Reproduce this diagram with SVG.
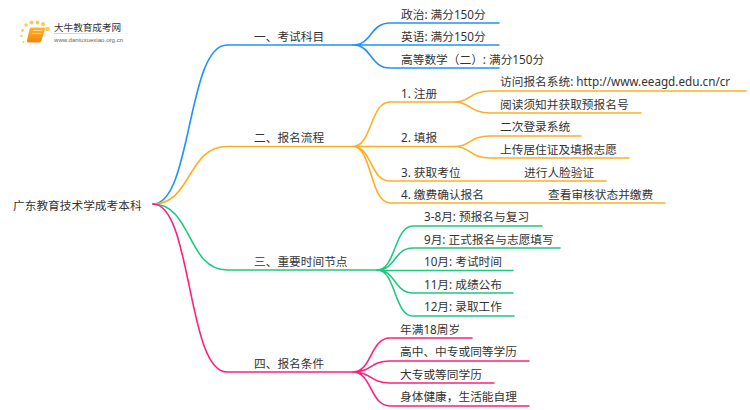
<svg xmlns="http://www.w3.org/2000/svg" width="750" height="410" viewBox="0 0 750 410">
<defs>
<style>
text{font-family:"Noto Sans","Noto Sans CJK SC",sans-serif;font-size:11.700px;fill:#333}
.c{fill:none;stroke-width:1.6;stroke-linecap:round}
.b{stroke:#2291ff}.o{stroke:#ffad22}.g{stroke:#1fc97f}.p{stroke:#ff1f7d}
.d{fill:#ffc94d}
</style>
<linearGradient id="bk" x1="0" y1="0" x2="0" y2="1"><stop offset="0" stop-color="#ffb52e"/><stop offset="1" stop-color="#f08410"/></linearGradient>
<linearGradient id="fd" x1="0" y1="0" x2="1" y2="0"><stop offset="0" stop-color="#ccc"/><stop offset="1" stop-color="#fff"/></linearGradient>
</defs>
<rect width="750" height="410" fill="#fff"/>
<g id="logo">
<circle class="d" cx="26" cy="25" r="1.800"/><circle class="d" cx="31.500" cy="22.500" r="2"/><circle class="d" cx="37.500" cy="22.500" r="2"/><circle class="d" cx="43" cy="24" r="2"/><circle class="d" cx="47.500" cy="29" r="2.300"/><circle class="d" cx="22.500" cy="30.500" r="1.400"/><circle class="d" cx="21.500" cy="36" r="1.200"/><circle class="d" cx="23.500" cy="42" r="1"/>
<path d="M31 27.500H44Q45.500 27.500 45 29L41.500 40.500Q41 42.500 39 42.500H28.500Q26.500 42.500 27 40.500L29.500 29Q29.800 27.500 31 27.500Z" fill="url(#bk)"/>
<path d="M33 30.500H42M32 33.500H41" stroke="#ffe2a0" stroke-width="0.8" fill="none"/>
<rect x="54" y="33" width="80" height="1" fill="url(#fd)"/>
<text x="54" y="31" style="font-size:9.600px;font-family:'Noto Sans CJK SC',sans-serif">大牛教育成考网</text>
<text x="54" y="41.500" style="font-size:6.100px;fill:#666;font-family:'Liberation Sans',sans-serif">www.daniuxuexiao.org.cn</text>
</g>
<g id="connectors">
<path class="c b" d="M153 204C192 204 187 45 227 45H353"/>
<path class="c b" d="M353 45C372 45 370 23 390 23H499M353 45H499M353 45C372 45 370 68 390 68H499"/>
<path class="c o" d="M153 204C192 204 187 146.500 227 146.500H353"/>
<path class="c o" d="M353 146.500C372 146.500 370 102 390 102H455M353 146.500H455M353 146.500C372 146.500 370 181 390 181H606M353 146.500C372 146.500 370 203 390 203H665"/>
<path class="c o" d="M455 102C470 102 470 91 490 91H746M455 102C470 102 470 113 490 113H641M455 146.500C470 146.500 470 136 490 136H581M455 146.500C470 146.500 470 158 490 158H629"/>
<path class="c g" d="M153 204C192 204 187 270 227 270H377"/>
<path class="c g" d="M377 270C396 270 394 226 413 226H542M377 270C396 270 394 248 413 248H560M377 270.500H513M377 270C396 270 394 293 413 293H513M377 270C396 270 394 316 413 316H514"/>
<path class="c p" d="M153 204C192 204 187 372 227 372H353"/>
<path class="c p" d="M353 372C372 372 370 338 390 338H472M353 372C372 372 370 361 390 361H529M353 372C372 372 370 383 390 383H494M353 372C372 372 370 406 390 406H529"/>
</g>
<g id="root"><text x="13" y="209.500">广东教育技术学成考本科</text></g>
<g id="n1"><text x="254" y="41">一、考试科目</text></g>
<g id="n1-1"><text x="401" y="19">政治: 满分150分</text></g>
<g id="n1-2"><text x="401" y="41">英语: 满分150分</text></g>
<g id="n1-3"><text x="401" y="64">高等数学（二）: 满分150分</text></g>
<g id="n2"><text x="254" y="142">二、报名流程</text></g>
<g id="n2-1"><text x="401" y="98">1. 注册</text></g>
<g id="n2-1-1"><text x="500" y="86">访问报名系统: http://www.eeagd.edu.cn/cr</text></g>
<g id="n2-1-2"><text x="500" y="108.500">阅读须知并获取预报名号</text></g>
<g id="n2-2"><text x="401" y="142">2. 填报</text></g>
<g id="n2-2-1"><text x="500" y="131">二次登录系统</text></g>
<g id="n2-2-2"><text x="500" y="154">上传居住证及填报志愿</text></g>
<g id="n2-3"><text x="401" y="177">3. 获取考位</text></g>
<g id="n2-3-1"><text x="524" y="177">进行人脸验证</text></g>
<g id="n2-4"><text x="401" y="199">4. 缴费确认报名</text></g>
<g id="n2-4-1"><text x="548" y="199">查看审核状态并缴费</text></g>
<g id="n3"><text x="254" y="266">三、重要时间节点</text></g>
<g id="n3-1"><text x="424" y="221">3-8月: 预报名与复习</text></g>
<g id="n3-2"><text x="424" y="243.500">9月: 正式报名与志愿填写</text></g>
<g id="n3-3"><text x="424" y="266">10月: 考试时间</text></g>
<g id="n3-4"><text x="424" y="289">11月: 成绩公布</text></g>
<g id="n3-5"><text x="424" y="311">12月: 录取工作</text></g>
<g id="n4"><text x="254" y="368">四、报名条件</text></g>
<g id="n4-1"><text x="400" y="334">年满18周岁</text></g>
<g id="n4-2"><text x="400" y="356">高中、中专或同等学历</text></g>
<g id="n4-3"><text x="400" y="379">大专或等同学历</text></g>
<g id="n4-4"><text x="400" y="401">身体健康，生活能自理</text></g>
</svg>
